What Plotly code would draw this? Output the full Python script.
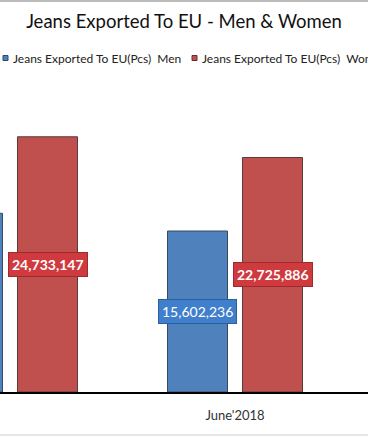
import plotly.graph_objects as go

categories = ["June'2017", "June'2018"]
men = [17318475, 15602236]
women = [24733147, 22725886]
series_names = ["Jeans Exported To EU(Pcs)&nbsp;&nbsp;Men", "Jeans Exported To EU(Pcs)&nbsp;&nbsp;Women"]

cat_pos = list(range(len(categories)))
BLUE = "#4F81BD"
RED = "#C0504D"
bw = 0.2667
half_gap = 0.0333

W, H = 368, 437
TOP, BOT = 80, 392
PH = BOT - TOP


def py(Y):
    return (BOT - Y) / PH


def px(X):
    return X / W


fig = go.Figure()
fig.add_trace(go.Bar(x=cat_pos, y=men, name=series_names[0], width=bw, offset=-(bw + half_gap),
                     marker=dict(color=BLUE, line=dict(color="#3A4A5E", width=1))))
fig.add_trace(go.Bar(x=cat_pos, y=women, name=series_names[1], width=bw, offset=half_gap,
                     marker=dict(color=RED, line=dict(color="#5A3A3A", width=1))))

annotations = []
for i, c in enumerate(cat_pos):
    annotations.append(dict(x=c - (bw / 2 + half_gap), y=men[i] / 2, xref="x", yref="y",
                            text=f"{men[i]:,}", showarrow=False,
                            font=dict(family="Lato", size=14, color="white"),
                            bgcolor="#3F7FCB", bordercolor="#2B5E9C", borderwidth=1, borderpad=3))
    annotations.append(dict(x=c + (bw / 2 + half_gap), y=women[i] / 2, xref="x", yref="y",
                            text=f"<b>{women[i]:,}</b>", showarrow=False,
                            font=dict(family="Lato", size=14, color="white"),
                            bgcolor="#CF3A3E", bordercolor="#9E2A2D", borderwidth=1, borderpad=3))

# legend (drawn manually)
legend_colors = [BLUE, RED]
legend_borders = ["#2B4A70", "#6A2A2A"]
legend_x = [3, 192]
shapes = []
for k in range(2):
    shapes.append(dict(type="rect", xref="paper", yref="paper",
                       x0=px(legend_x[k]), x1=px(legend_x[k] + 5), y0=py(60.5), y1=py(55.5),
                       fillcolor=legend_colors[k], line=dict(color=legend_borders[k], width=1)))
    annotations.append(dict(x=px(legend_x[k] + 8), y=py(58), xref="paper", yref="paper",
                            xanchor="left", yanchor="middle", text=series_names[k], showarrow=False,
                            font=dict(family="Lato", size=12, color="#222")))

shapes += [
    dict(type="line", xref="paper", yref="paper", x0=0, x1=1, y0=py(1), y1=py(1),
         line=dict(color="#BBBBBB", width=2)),
    dict(type="line", xref="paper", yref="paper", x0=0, x1=1, y0=py(435), y1=py(435),
         line=dict(color="#CCCCCC", width=1)),
]

fig.update_layout(
    width=W, height=H,
    margin=dict(l=0, r=0, t=TOP, b=H - BOT),
    paper_bgcolor="white", plot_bgcolor="white",
    title=dict(text="Jeans Exported To EU - Men & Women", x=0.5, xanchor="center",
               y=1 - 22 / H, yanchor="middle", font=dict(family="Lato", size=18.5, color="#111")),
    showlegend=False,
    annotations=annotations,
    xaxis=dict(range=[-10 / 225, 1 + 133 / 225], tickvals=cat_pos, ticktext=categories,
               showgrid=False, zeroline=False, showline=True, linecolor="black", linewidth=2,
               ticks="", ticklabelstandoff=10, tickfont=dict(family="Lato", size=13, color="#333")),
    yaxis=dict(range=[0, PH * 96908], visible=False, showgrid=False),
    shapes=shapes,
)
fig.write_html("out.html", config={"displayModeBar": False},
               post_script="document.body.style.margin='0';")
